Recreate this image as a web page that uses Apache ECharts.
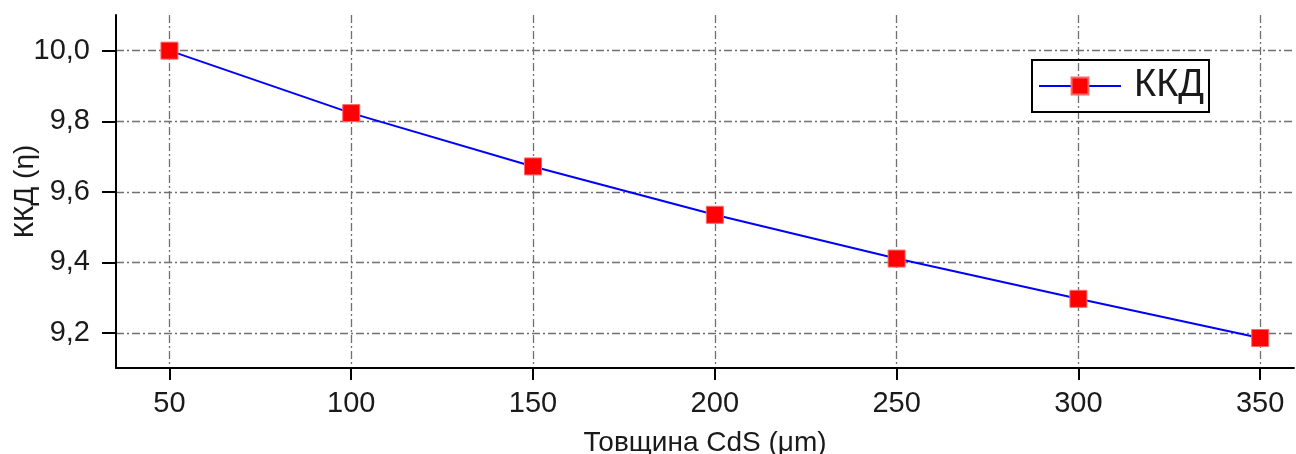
<!DOCTYPE html>
<html><head><meta charset="utf-8">
<script src="https://cdn.jsdelivr.net/npm/echarts@6/dist/echarts.min.js"></script>
<style>html,body{margin:0;padding:0;background:#fff}#c{width:1296px;height:454px}</style>
</head><body><div id="c"></div>
<script>
const thickness = [50, 100, 150, 200, 250, 300, 350];
const kkd = [10.0, 9.823, 9.672, 9.535, 9.411, 9.297, 9.186];
const xTicks = [50, 100, 150, 200, 250, 300, 350];
const yTicks = [9.2, 9.4, 9.6, 9.8, 10.0];
const seriesName = 'ККД';
const xName = 'Товщина CdS (μm)';
const yName = 'ККД (η)';

const font = 'Liberation Sans, Arial, sans-serif';
const txt = '#1a1a1a';
const gridStyle = {color: '#707070', width: 1.3, type: [8, 3, 2, 3]};
const chart = echarts.init(document.getElementById('c'), null, {renderer: 'canvas'});
chart.setOption({
  animation: false,
  grid: {left: 116, right: 2, top: 15, bottom: 86, containLabel: false, outerBoundsMode: 'none'},
  legend: {
    left: 1032, top: 60, orient: 'horizontal',
    borderColor: '#000', borderWidth: 2, borderRadius: 0,
    padding: [7, 5, 7, 6],
    itemWidth: 82, itemHeight: 21,
    textStyle: {fontFamily: font, fontSize: 38, color: txt, padding: [0, 0, 0, 8]},
    data: [seriesName]
  },
  xAxis: {
    type: 'value', min: 35.3, max: 359.3,
    name: xName, nameLocation: 'middle', nameGap: 61, nameMoveOverlap: false,
    nameTextStyle: {fontFamily: font, fontSize: 28, color: txt},
    axisLine: {show: true, onZero: false, lineStyle: {color: '#000', width: 2}},
    axisTick: {show: true, length: 12, lineStyle: {color: '#000', width: 2}, customValues: xTicks},
    axisLabel: {fontFamily: font, fontSize: 29, color: txt, margin: 21, customValues: xTicks},
    splitLine: {show: true, lineStyle: gridStyle, customValues: xTicks}
  },
  yAxis: {
    type: 'value', min: 9.101, max: 10.101,
    name: yName, nameLocation: 'middle', nameGap: 77, nameRotate: 90, nameMoveOverlap: false,
    nameTextStyle: {fontFamily: font, fontSize: 28, color: txt},
    axisLine: {show: true, onZero: false, lineStyle: {color: '#000', width: 2}},
    axisTick: {show: true, length: 14, lineStyle: {color: '#000', width: 2}, customValues: yTicks},
    axisLabel: {fontFamily: font, fontSize: 29, color: txt, margin: 26, customValues: yTicks,
      formatter: v => v.toFixed(1).replace('.', ',')},
    splitLine: {show: true, lineStyle: gridStyle, customValues: yTicks}
  },
  series: [{
    name: seriesName, type: 'line',
    data: thickness.map((x, i) => [x, kkd[i]]),
    symbol: 'rect', symbolSize: 17,
    lineStyle: {color: '#0000ff', width: 2},
    itemStyle: {color: '#ff0000', borderColor: '#ff6666', borderWidth: 1},
    z: 3
  }]
});
</script></body></html>
